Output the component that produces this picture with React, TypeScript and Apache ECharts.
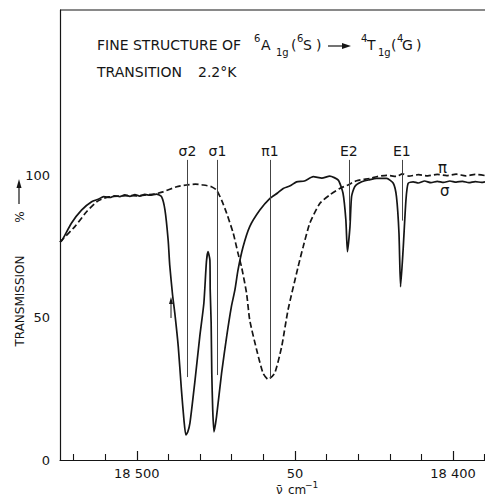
import React, { useEffect, useRef } from 'react';
import * as echarts from 'echarts';

// σ polarisation (solid trace): wavenumber (cm^-1) and transmission (%)
const sigmaWave = [
  18524.3, 18523.6, 18520.7, 18517.5, 18514.3, 18512.2, 18510.5, 18508.5, 18507.0, 18505.4,
  18503.8, 18502.2, 18500.6, 18499.1, 18497.5, 18495.9, 18493.8, 18492.2, 18491.1, 18490.1,
  18489.6, 18488.7, 18488.0, 18486.9, 18485.9, 18485.1, 18484.5, 18483.9, 18483.2, 18481.7,
  18480.1, 18478.8, 18478.0, 18477.5, 18476.9, 18476.8, 18476.5, 18476.3, 18476.0, 18475.6,
  18474.8, 18473.2, 18471.6, 18470.1, 18469.0, 18468.0, 18466.4, 18464.3, 18461.1, 18457.9,
  18455.5, 18453.7, 18451.5, 18449.5, 18447.0, 18444.2, 18441.5, 18439.0, 18436.3, 18434.8,
  18433.9, 18433.4, 18432.6, 18432.1, 18431.1, 18428.9, 18426.5, 18424.2, 18421.0, 18418.9,
  18417.9, 18417.1, 18416.6, 18415.8, 18414.9, 18414.2, 18412.6, 18411.0, 18409.0, 18407.0,
  18405.0, 18403.0, 18401.0, 18399.0, 18397.0, 18395.0, 18393.0, 18391.0, 18389.9,
];
const sigmaT = [
  76.5, 77.2, 83.1, 87.7, 90.6, 91.5, 92.4, 92.1, 92.7, 92.4,
  93.0, 92.5, 93.1, 92.6, 93.2, 92.9, 93.3, 92.4, 87.7, 77.2,
  68.4, 57.9, 51.6, 39.8, 24.6, 14.0, 8.8, 9.8, 13.0, 27.0,
  43.3, 55.1, 69.5, 73.1, 70.2, 59.6, 48.1, 30.5, 17.5, 9.9,
  15.2, 30.5, 43.3, 53.8, 59.6, 66.7, 74.8, 81.9, 87.7, 91.8,
  93.7, 95.3, 96.2, 97.6, 97.9, 99.4, 98.9, 99.6, 98.2, 93.6,
  84.2, 73.1, 81.9, 92.4, 95.9, 97.6, 98.3, 98.8, 98.8, 97.1,
  92.4, 79.5, 60.8, 73.7, 91.2, 97.1, 97.6, 97.2, 97.9, 97.3,
  97.8, 97.4, 97.9, 97.5, 97.8, 97.3, 97.7, 97.4, 97.6,
];

// π polarisation (dashed trace)
const piWave = [
  18524.3, 18523.7, 18519.6, 18515.9, 18512.7, 18511.2, 18509.0, 18506.0, 18503.0, 18500.0,
  18497.0, 18494.5, 18491.7, 18487.4, 18484.3, 18481.5, 18479.0, 18476.4, 18474.8, 18473.2,
  18471.6, 18469.5, 18468.0, 18466.9, 18465.3, 18464.3, 18462.1, 18460.1, 18458.5, 18456.4,
  18454.2, 18452.2, 18449.0, 18447.4, 18445.3, 18442.1, 18439.0, 18435.8, 18433.2, 18430.5,
  18426.3, 18424.2, 18421.0, 18418.0, 18416.0, 18414.0, 18411.0, 18408.0, 18405.0, 18402.0,
  18399.0, 18396.0, 18393.0, 18389.9,
];
const piT = [
  76.5, 77.2, 81.9, 87.1, 90.6, 91.5, 92.3, 92.6, 92.8, 92.7,
  93.0, 93.3, 94.1, 95.9, 96.5, 96.8, 96.5, 95.9, 94.7, 91.2,
  86.6, 79.5, 72.5, 67.8, 58.5, 49.1, 38.6, 30.5, 28.3, 30.5,
  39.8, 52.6, 67.8, 74.8, 83.1, 90.1, 93.0, 95.3, 96.5, 98.0,
  98.8, 99.4, 99.9, 99.5, 100.4, 99.6, 100.1, 99.7, 100.2, 99.8,
  100.3, 99.7, 100.2, 99.8,
];

const xMajorTicks = [18500, 18450, 18400];
const xMajorLabels = ['18 500', '50', '18 400'];
const xMinorTicks = [18520, 18510, 18490, 18480, 18470, 18460, 18440, 18430, 18420, 18410, 18390];
const yTicks = [0, 50, 100];

const markerNames = ['σ2', 'σ1', 'π1', 'E2', 'E1'];
const markerWave = [18484.0, 18474.5, 18457.9, 18432.95, 18416.2];
const markerBottom = [29.1, 29.8, 28.8, 84, 84];
const markerTop = 105.3;

const FONT = 'DejaVu Sans';
const INK = '#151515';

function txt(x: number, y: number, text: string, size = 14, extra: any = {}) {
  return {
    type: 'text',
    x,
    y,
    silent: true,
    style: {
      text,
      fill: INK,
      font: `${size}px "${FONT}"`,
      textAlign: 'left',
      textVerticalAlign: 'middle',
      verticalAlign: 'middle',
      ...extra,
    },
  };
}

export default function App() {
  const ref = useRef<HTMLDivElement>(null);
  useEffect(() => {
    if (!ref.current) return;
    const chart = echarts.init(ref.current, undefined, { renderer: 'svg' });
    const axisCommon = {
      type: 'value',
      inverse: true,
      min: 18389.9,
      max: 18524.3,
      gridIndex: 0,
      position: 'bottom',
      splitLine: { show: false },
    };
    const option: any = {
      animation: false,
      backgroundColor: '#ffffff',
      grid: { left: 60, right: 0, top: 10, bottom: 38 },
      xAxis: [
        {
          ...axisCommon,
          axisLine: { show: true, onZero: false, lineStyle: { color: INK, width: 1.2 } },
          axisTick: { show: true, inside: true, length: 9, customValues: xMajorTicks, lineStyle: { color: INK, width: 1.2 } },
          axisLabel: {
            show: true,
            customValues: xMajorTicks,
            formatter: (v: number) => {
              const i = xMajorTicks.indexOf(Math.round(v));
              return i >= 0 ? xMajorLabels[i] : '';
            },
            margin: 7,
            fontFamily: FONT,
            fontSize: 13,
            color: INK,
          },
        },
        {
          ...axisCommon,
          axisLine: { show: false },
          axisTick: { show: true, inside: true, length: 6, customValues: xMinorTicks, lineStyle: { color: INK, width: 1.1 } },
          axisLabel: { show: false },
        },
      ],
      yAxis: {
        type: 'value',
        min: 0,
        max: 157.9,
        axisLine: { show: true, lineStyle: { color: INK, width: 1.2 } },
        axisTick: { show: false },
        axisLabel: { customValues: yTicks, margin: 10, fontFamily: FONT, fontSize: 13, color: INK },
        splitLine: { show: false },
      },
      series: [
        {
          type: 'line',
          name: 'σ',
          xAxisIndex: 0,
          data: sigmaWave.map((w, i) => [w, sigmaT[i]]),
          showSymbol: false,
          smooth: 0.2,
          lineStyle: { color: INK, width: 1.7 },
          z: 3,
          markLine: {
            silent: true,
            symbol: ['none', 'none'],
            lineStyle: { color: '#444', width: 1, type: 'solid' },
            label: {
              show: true,
              position: 'start',
              formatter: '{b}',
              distance: 2,
              fontFamily: FONT,
              fontSize: 14,
              color: INK,
            },
            data: markerNames.map((n, i) => [
              { name: n, coord: [markerWave[i], markerTop] },
              { coord: [markerWave[i], markerBottom[i]] },
            ]),
          },
        },
        {
          type: 'line',
          name: 'π',
          xAxisIndex: 0,
          data: piWave.map((w, i) => [w, piT[i]]),
          showSymbol: false,
          smooth: 0.2,
          lineStyle: { color: INK, width: 1.7, type: [6, 3] },
          z: 2,
        },
      ],
      graphic: [
        { type: 'line', silent: true, shape: { x1: 60, y1: 10, x2: 485, y2: 10 }, style: { stroke: INK, lineWidth: 1.2 } },
        txt(97, 45, 'FINE STRUCTURE OF'),
        txt(254, 38, '6', 10),
        txt(261, 45, 'A'),
        txt(276, 52, '1g', 10),
        txt(291, 45, '('),
        txt(297, 38, '6', 10),
        txt(303, 45, 'S'),
        txt(316, 45, ')'),
        { type: 'line', silent: true, shape: { x1: 328, y1: 46, x2: 344, y2: 46 }, style: { stroke: INK, lineWidth: 1.2 } },
        { type: 'polygon', silent: true, shape: { points: [[342, 43], [351, 46], [342, 49]] }, style: { fill: INK } },
        txt(361, 38, '4', 10),
        txt(367, 45, 'T'),
        txt(378, 52, '1g', 10),
        txt(391, 45, '('),
        txt(397, 38, '4', 10),
        txt(402, 45, 'G'),
        txt(416, 45, ')'),
        txt(97, 72, 'TRANSITION'),
        txt(198, 72, '2.2°K'),
        // y-axis title
        { ...txt(20, 301, 'TRANSMISSION', 12, { textAlign: 'center' }), rotation: Math.PI / 2 },
        { ...txt(20, 217, '%', 12, { textAlign: 'center' }), rotation: Math.PI / 2 },
        { type: 'line', silent: true, shape: { x1: 19, y1: 204, x2: 19, y2: 186 }, style: { stroke: INK, lineWidth: 1.2 } },
        { type: 'polygon', silent: true, shape: { points: [[16.5, 188], [19, 179], [21.5, 188]] }, style: { fill: INK } },
        // x-axis title
        txt(276, 490, 'ν̄', 12),
        txt(288, 490, 'cm', 12),
        txt(305, 485, '−1', 9),
        // polarisation labels
        txt(438, 168, 'π', 15),
        txt(440, 191, 'σ', 15),
        // small arrow near σ2
        { type: 'line', silent: true, shape: { x1: 171, y1: 318, x2: 171, y2: 302 }, style: { stroke: INK, lineWidth: 1 } },
        { type: 'polygon', silent: true, shape: { points: [[169, 304], [171, 297], [173, 304]] }, style: { fill: INK } },
      ],
    };
    chart.setOption(option);
    return () => chart.dispose();
  }, []);
  return (
    <div
      ref={ref}
      style={{ position: 'fixed', left: 0, top: 0, width: 485, height: 498, background: '#fff' }}
    />
  );
}
